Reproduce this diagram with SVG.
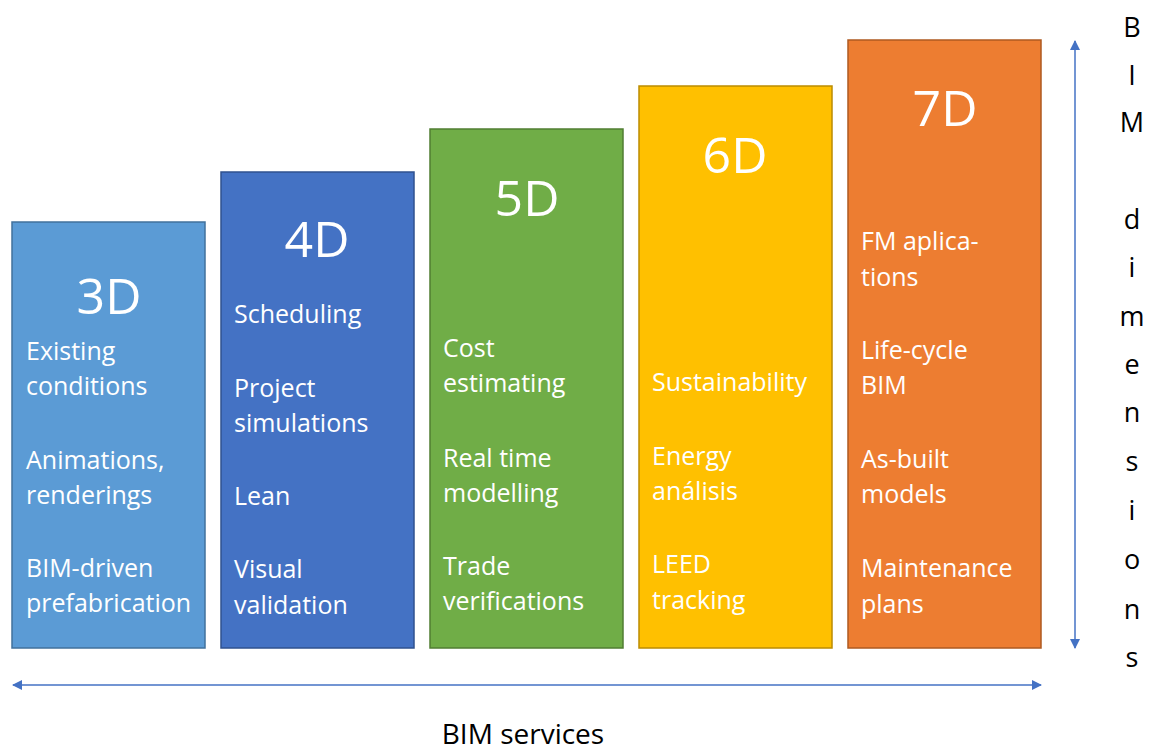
<svg xmlns="http://www.w3.org/2000/svg" width="1151" height="752" viewBox="0 0 1151 752">
<defs>
<style>
.bar{stroke-width:1.5}
.t{font-family:"Open Sans","Liberation Sans",sans-serif;fill:#fff}
.title{font-size:50px;text-anchor:middle}
.body{font-size:25px}
.lbl{font-family:"Open Sans","Liberation Sans",sans-serif;fill:#000;font-size:27px;text-anchor:middle}
.svc{font-size:28px}
.ax{stroke:#4472C4;stroke-width:1.5;fill:none}
</style>
<marker id="ah" viewBox="0 0 10 10" refX="9" refY="5" markerWidth="10" markerHeight="10" markerUnits="userSpaceOnUse" orient="auto-start-reverse">
<path d="M0,0 L10,5 L0,10 Z" fill="#4472C4"/>
</marker>
</defs>
<rect width="1151" height="752" fill="#fff"/>
<g id="bar3d">
<rect class="bar" x="12" y="222" width="193" height="426" fill="#5B9BD5" stroke="#41719C"/>
<text class="t title" x="109" y="314">3D</text>
<text class="t body" x="26" y="360">Existing</text>
<text class="t body" x="26" y="395">conditions</text>
<text class="t body" x="26" y="469">Animations,</text>
<text class="t body" x="26" y="504">renderings</text>
<text class="t body" x="26" y="577">BIM-driven</text>
<text class="t body" x="26" y="612">prefabrication</text>
</g>
<g id="bar4d">
<rect class="bar" x="221" y="172" width="193" height="476" fill="#4472C4" stroke="#2F528F"/>
<text class="t title" x="317" y="257">4D</text>
<text class="t body" x="234" y="323">Scheduling</text>
<text class="t body" x="234" y="397">Project</text>
<text class="t body" x="234" y="432">simulations</text>
<text class="t body" x="234" y="505">Lean</text>
<text class="t body" x="234" y="578">Visual</text>
<text class="t body" x="234" y="614">validation</text>
</g>
<g id="bar5d">
<rect class="bar" x="430" y="129" width="193" height="519" fill="#70AD47" stroke="#507E32"/>
<text class="t title" x="527" y="216">5D</text>
<text class="t body" x="443" y="357">Cost</text>
<text class="t body" x="443" y="392">estimating</text>
<text class="t body" x="443" y="467">Real time</text>
<text class="t body" x="443" y="502">modelling</text>
<text class="t body" x="443" y="575">Trade</text>
<text class="t body" x="443" y="610">verifications</text>
</g>
<g id="bar6d">
<rect class="bar" x="639" y="86" width="193" height="562" fill="#FFC000" stroke="#BC8C00"/>
<text class="t title" x="735" y="173">6D</text>
<text class="t body" x="652" y="391">Sustainability</text>
<text class="t body" x="652" y="465">Energy</text>
<text class="t body" x="652" y="500">análisis</text>
<text class="t body" x="652" y="573">LEED</text>
<text class="t body" x="652" y="609">tracking</text>
</g>
<g id="bar7d">
<rect class="bar" x="848" y="40" width="193" height="608" fill="#ED7D31" stroke="#AE5A21"/>
<text class="t title" x="945" y="126">7D</text>
<text class="t body" x="861" y="250">FM aplica-</text>
<text class="t body" x="861" y="286">tions</text>
<text class="t body" x="861" y="359">Life-cycle</text>
<text class="t body" x="861" y="394">BIM</text>
<text class="t body" x="861" y="468">As-built</text>
<text class="t body" x="861" y="503">models</text>
<text class="t body" x="861" y="577">Maintenance</text>
<text class="t body" x="861" y="613">plans</text>
</g>
<g id="connectors">
<line class="ax" x1="13" y1="685" x2="1041" y2="685" marker-start="url(#ah)" marker-end="url(#ah)"/>
<line class="ax" x1="1075" y1="41" x2="1075" y2="648" marker-start="url(#ah)" marker-end="url(#ah)"/>
</g>
<g id="label-services">
<text class="lbl svc" x="523" y="744">BIM services</text>
</g>
<g id="label-dimensions" class="lbl">
<text x="1132" y="37">B</text>
<text x="1132" y="85">I</text>
<text x="1132" y="132">M</text>
<text x="1132" y="229">d</text>
<text x="1132" y="277">i</text>
<text x="1132" y="326">m</text>
<text x="1132" y="374">e</text>
<text x="1132" y="422">n</text>
<text x="1132" y="471">s</text>
<text x="1132" y="520">i</text>
<text x="1132" y="569">o</text>
<text x="1132" y="619">n</text>
<text x="1132" y="667">s</text>
</g>
</svg>
